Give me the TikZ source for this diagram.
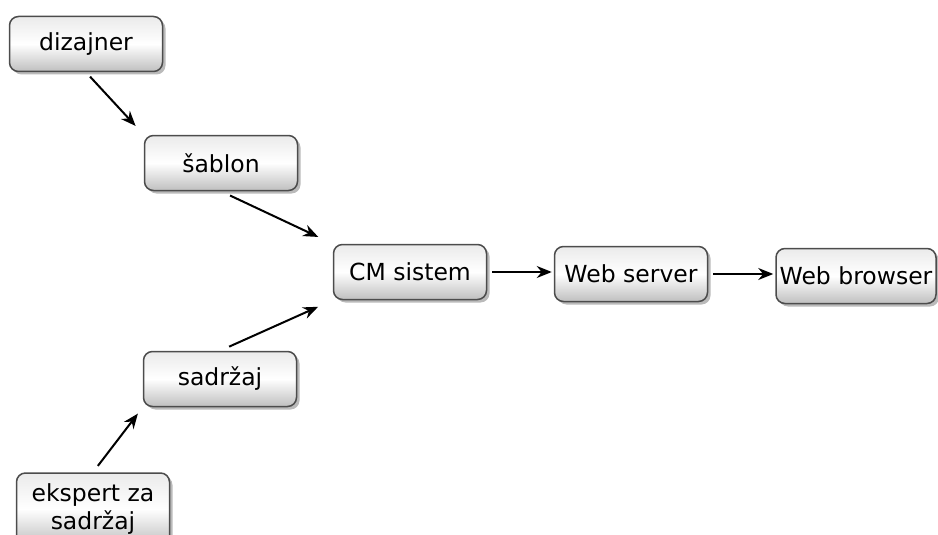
\documentclass[tikz,border=0pt]{standalone}
\usepackage{fontspec}
\setmainfont{DejaVu Sans}
\usetikzlibrary{arrows.meta,shadows}
\tikzset{
  box/.style={draw=black!70, line width=1.5pt, rounded corners=9pt,
    top color=black!8, bottom color=black!25, middle color=white,
    minimum width=153pt, minimum height=55pt, inner sep=1pt,
    font=\fontsize{23.5}{28}\selectfont, align=center,
    drop shadow={shadow xshift=3pt, shadow yshift=-3pt, opacity=0.45, fill=black!60}},
  link/.style={line width=2pt, -{Stealth[length=15pt,width=12pt]}}
}
\begin{document}
\begin{tikzpicture}[x=1pt,y=-1pt]
\useasboundingbox (0,0) rectangle (938,535);
\node[box] (diz) at (86,44) {dizajner};
\node[box] (sab) at (221,163) {šablon};
\node[box] (cms) at (410,272) {CM sistem};
\node[box] (ws) at (631,274) {Web server};
\node[box, minimum width=160pt] (wb) at (856,276) {Web browser};
\node[box] (sad) at (220,379) {sadržaj};
\node[box, minimum height=72pt] (eks) at (93,509) {ekspert za\\sadržaj};
\draw[link, shorten <=6pt, shorten >=12pt] (diz.south) -- (sab.north west);
\draw[link, shorten <=10pt, shorten >=16pt] (sab.south) -- (cms.north west);
\draw[link, shorten <=10pt, shorten >=16pt] (sad.north) -- (cms.south west);
\draw[link, shorten <=8pt, shorten >=8pt] (eks.north) -- (sad.south west);
\draw[link, shorten <=5pt, shorten >=2pt] (cms.east) -- (ws.west |- cms.east);
\draw[link, shorten <=5pt, shorten >=2pt] (ws.east) -- (wb.west |- ws.east);
\end{tikzpicture}
\end{document}
